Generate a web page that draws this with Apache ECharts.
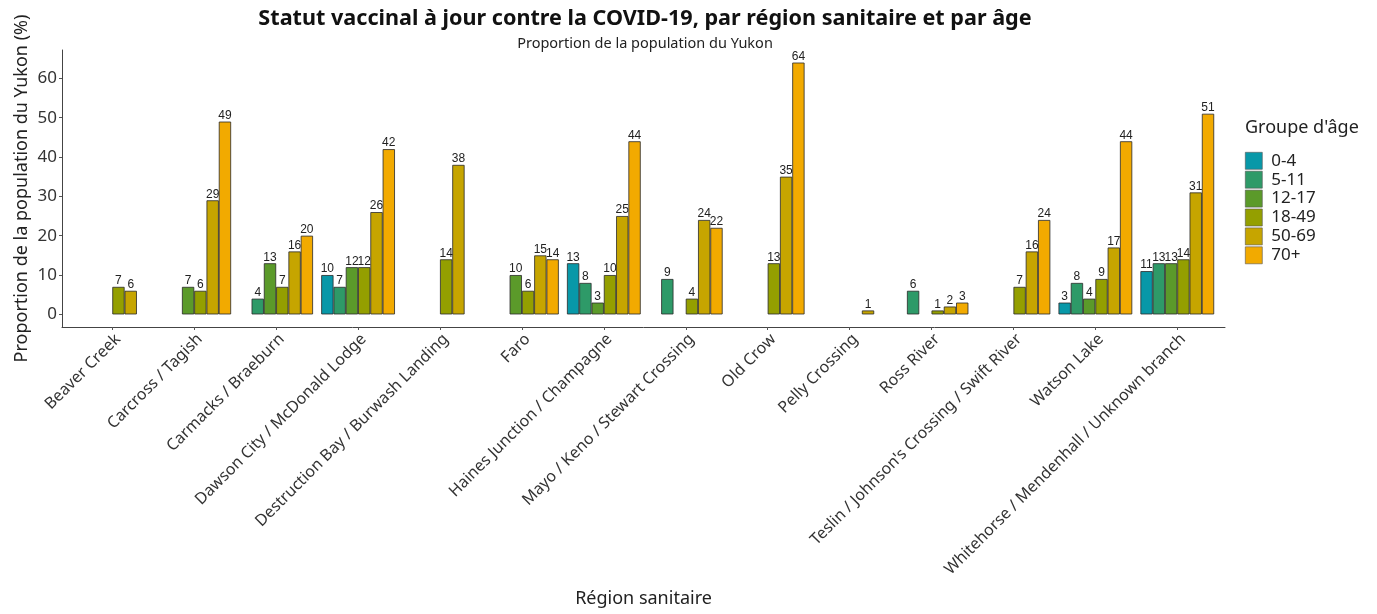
<!DOCTYPE html>
<html>
<head>
<meta charset="utf-8">
<script src="https://cdn.jsdelivr.net/npm/echarts@6/dist/echarts.min.js"></script>
<style>html,body{margin:0;padding:0;background:#fff}#c{width:1377px;height:614px}</style>
</head>
<body>
<div id="c"></div>
<script>
const regions = ["Beaver Creek","Carcross / Tagish","Carmacks / Braeburn","Dawson City / McDonald Lodge","Destruction Bay / Burwash Landing","Faro","Haines Junction / Champagne","Mayo / Keno / Stewart Crossing","Old Crow","Pelly Crossing","Ross River","Teslin / Johnson's Crossing / Swift River","Watson Lake","Whitehorse / Mendenhall / Unknown branch"];
const ageGroups = ["0-4","5-11","12-17","18-49","50-69","70+"];
const v0_4   = [null,null,null,10,null,null,13,null,null,null,null,null,3,11];
const v5_11  = [null,null,4,7,null,null,8,9,null,null,6,null,8,13];
const v12_17 = [null,7,13,12,null,10,3,null,null,null,null,null,4,13];
const v18_49 = [7,6,7,12,14,6,10,4,13,null,1,7,9,14];
const v50_69 = [6,29,16,26,38,15,25,24,35,1,2,16,17,31];
const v70p   = [null,49,20,42,null,14,44,22,64,null,3,24,44,51];
const yTicks = [0,10,20,30,40,50,60];
const values = [v0_4,v5_11,v12_17,v18_49,v50_69,v70p];
const colors = ["#0898A8","#2E9A68","#5B9A2A","#949F00","#C6A500","#F2AA00"];

const FONT = "Noto Sans";
const chart = echarts.init(document.getElementById('c'));
const series = ageGroups.map((g,i)=>({
  name: g, type: 'bar', xAxisIndex: 1, yAxisIndex: 1,
  data: values[i],
  barGap: '0%', barCategoryGap: '10%',
  itemStyle: {color: colors[i], borderColor: '#2a2a2a', borderWidth: 0.8},
  label: {show: true, position: 'top', distance: 0, fontSize: 12, color: '#222', fontFamily: 'Liberation Sans'},
  emphasis: {disabled: true}
}));
const yCommon = {type:'value', min:-3.2, max:67.2, splitLine:{show:false}};
chart.setOption({
  animation: false,
  textStyle: {fontFamily: FONT},
  title: [
    {text: "Statut vaccinal à jour contre la COVID-19, par région sanitaire et par âge", left: 645, top: 8, padding: 0, textAlign: 'center',
     textStyle:{fontFamily: FONT, fontSize: 21.6, fontWeight: 'bold', color:'#111'}},
    {text: "Proportion de la population du Yukon", left: 645, top: 36, padding: 0, textAlign: 'center',
     textStyle:{fontFamily: FONT, fontSize: 14.5, fontWeight: 'normal', color:'#222'}},
    {text: "Groupe d'âge", left: 1245, top: 119, padding: 0,
     textStyle:{fontFamily: FONT, fontSize: 18, fontWeight: 'normal', color:'#222'}}
  ],
  legend: {orient:'vertical', left: 1245, top: 152, padding: 0, itemWidth: 17, itemHeight: 17, itemGap: 1.3, icon: 'rect',
    data: ageGroups, selectedMode: false,
    itemStyle: {borderWidth: 0.6, borderColor: '#555'},
    textStyle:{fontFamily: FONT, fontSize: 17, color:'#222', padding:[0,0,0,4]}},
  grid: [
    {left: 62, right: 152, top: 50, bottom: 287},
    {left: 71.35, right: 158.75, top: 50, bottom: 287}
  ],
  xAxis: [
    {type:'value', gridIndex:0, min:0, max:1, axisLine:{show:true, onZero:false, lineStyle:{color:'#444', width:1}},
     axisTick:{show:false}, axisLabel:{show:false}, splitLine:{show:false},
     name: "Région sanitaire", nameLocation:'middle', nameGap: 263, nameMoveOverlap: false,
     nameTextStyle:{fontFamily: FONT, fontSize: 18, color:'#222'}},
    {type:'category', gridIndex:1, data: regions, axisLine:{show:false, onZero:false},
     axisTick:{show:true, alignWithLabel:true, length:3, lineStyle:{color:'#555'}},
     axisLabel:{rotate:45, fontSize:16, color:'#333', margin:4, verticalAlign:'top', interval:0, fontFamily: FONT}}
  ],
  yAxis: [
    Object.assign({}, yCommon, {gridIndex:0,
      axisLine:{show:true, onZero:false, lineStyle:{color:'#444', width:1}},
      axisTick:{show:true, length:3, customValues: yTicks, lineStyle:{color:'#555'}},
      axisLabel:{customValues: yTicks, fontSize:17, color:'#333', margin:5, fontFamily: FONT},
      name: "Proportion de la population du Yukon (%)", nameLocation:'middle', nameGap: 31, nameMoveOverlap: false,
      nameTextStyle:{fontFamily: FONT, fontSize: 18, color:'#222'}}),
    Object.assign({}, yCommon, {gridIndex:1, axisLine:{show:false}, axisTick:{show:false}, axisLabel:{show:false}})
  ],
  series: series
});
</script>
</body>
</html>
